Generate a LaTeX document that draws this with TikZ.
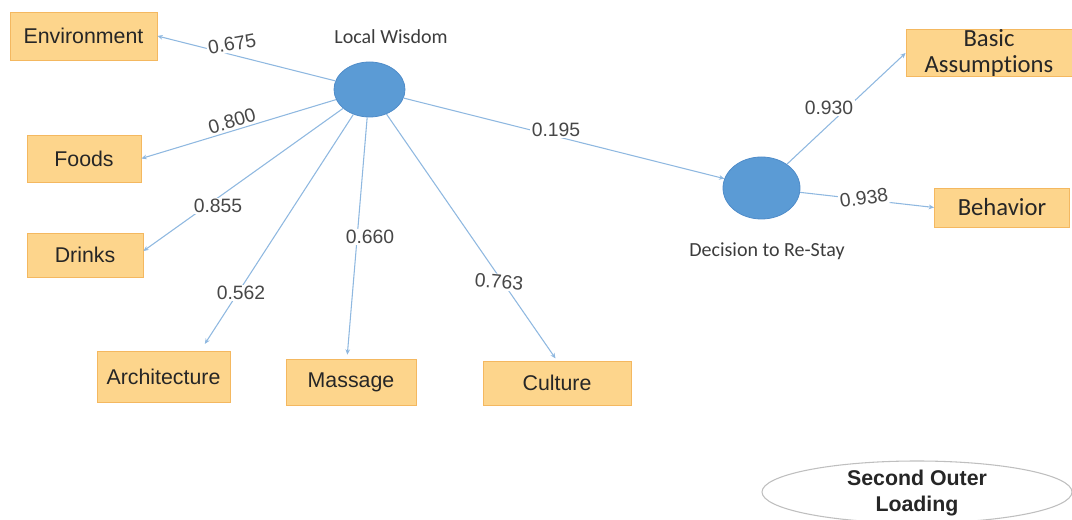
\documentclass[tikz,border=0pt]{standalone}
\usepackage{fontspec}
\setmainfont{Liberation Sans}
\newfontfamily\calib[Ligatures={NoCommon}]{Carlito}
\usetikzlibrary{shapes.geometric,arrows.meta}
\definecolor{boxfill}{HTML}{FDD58C}
\definecolor{boxline}{HTML}{F4B860}
\definecolor{lvfill}{HTML}{5B9BD5}
\definecolor{lvline}{HTML}{4F8CC9}
\definecolor{arc}{HTML}{8FB8E0}
\definecolor{txt}{HTML}{262626}
\begin{document}
\begin{tikzpicture}[x=0.75pt,y=-0.75pt,
  ind/.style={rectangle, fill=boxfill, draw=boxline, line width=0.6pt, font=\fontsize{16}{18}\selectfont, text=txt, inner sep=0pt, align=center},
  indc/.style={ind, font=\calib\fontsize{18.5}{19}\selectfont},
  lv/.style={ellipse, fill=lvfill, draw=lvline, line width=0.6pt, inner sep=0pt},
  conn/.style={draw=arc, line width=0.8pt, -{Stealth[length=4pt,width=3.5pt]}},
  lab/.style={fill=white, inner sep=1pt, font=\fontsize{14.5}{16}\selectfont, text=txt!85},
  lvlab/.style={font=\calib\fontsize{15}{17}\selectfont, text=txt!90}]
\useasboundingbox (0,0) rectangle (1072,520);
% indicator boxes
\node[ind, minimum width=110.25pt, minimum height=36pt] (env) at (83.5,36) {Environment};
\node[ind, minimum width=85.5pt, minimum height=35.25pt] (foods) at (84,158.5) {Foods};
\node[ind, minimum width=87pt, minimum height=33pt] (drinks) at (85,255) {Drinks};
\node[ind, minimum width=99.75pt, minimum height=38.25pt] (arch) at (163.5,376.5) {Architecture};
\node[ind, minimum width=97.5pt, minimum height=34.5pt] (mass) at (351,382) {Massage};
\node[ind, minimum width=111pt, minimum height=33pt] (cult) at (557,383) {Culture};
\node[indc, minimum width=124.5pt, minimum height=34pt] (basic) at (989,53) {Basic\\[1pt]Assumptions};
\node[indc, minimum width=101.25pt, minimum height=29.25pt] (behav) at (1002,207.5) {Behavior};
% latent variables
\node[lv, minimum width=53.25pt, minimum height=41.25pt] (lw) at (369.5,89.5) {};
\node[lv, minimum width=57.75pt, minimum height=46.5pt] (dec) at (761.5,188) {};
\node[lvlab] (lwlab) at (391,37) {Local Wisdom};
\node[lvlab] (declab) at (767,251) {Decision to Re-Stay};
% connectors
\draw[conn] (lw) -- (env.east);
\draw[conn] (lw) -- (foods.east);
\draw[conn] (lw) -- ([yshift=3pt]drinks.east);
\draw[conn, shorten >=6pt] (lw) -- (arch.35);
\draw[conn, shorten >=3pt] (lw) -- ([xshift=-3pt]mass.north);
\draw[conn, shorten >=2pt] (lw) -- (cult.north);
\draw[conn] (lw) -- (dec);
\draw[conn] (dec) -- (basic.west);
\draw[conn] (dec) -- (behav.west);
% loading labels
\node[lab, rotate=10] (l1) at (232,44) {0.675};
\node[lab, rotate=16] (l2) at (232,121) {0.800};
\node[lab] (l3) at (218,206) {0.855};
\node[lab] (l4) at (241,293) {0.562};
\node[lab] (l5) at (370,237) {0.660};
\node[lab, rotate=-5] (l6) at (499,282) {0.763};
\node[lab] (l7) at (556,130) {0.195};
\node[lab] (l8) at (829,108) {0.930};
\node[lab, rotate=8] (l9) at (864,198) {0.938};
% legend
\node[ellipse, draw=black!25, line width=0.8pt, fill=white, minimum width=232.5pt, minimum height=46.5pt, inner sep=0pt] (leg) at (917,492) {};
\node[font=\bfseries\fontsize{16}{19.5}\selectfont, text=txt, align=center] (legtxt) at (917,493) {Second Outer\\Loading};
\end{tikzpicture}
\end{document}
